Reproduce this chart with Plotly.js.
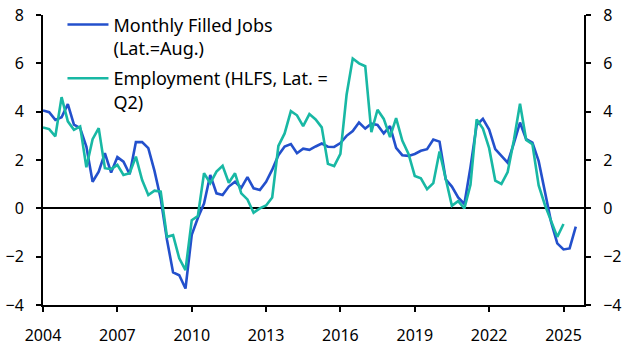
<!DOCTYPE html>
<html>
<head>
<meta charset="utf-8">
<script src="https://cdn.plot.ly/plotly-3.0.1.min.js"></script>
<style>html,body{margin:0;padding:0;background:#fff;}#chart{width:630px;height:355px;}</style>
</head>
<body>
<div id="chart"></div>
<script>
// Quarterly series start (first observation plotted at Jan 2004)
var startYear = 2004;
var seriesNames = ["Monthly Filled Jobs<br>(Lat.=Aug.)", "Employment (HLFS, Lat. =<br>Q2)"];
var filledJobs = [4.05,3.98,3.66,3.77,4.31,3.46,3.32,2.56,1.1,1.52,2.28,1.48,2.12,1.93,1.41,2.74,2.74,2.49,1.55,0.4,
  -1.3,-2.65,-2.77,-3.32,-1.1,-0.4,0.2,1.38,0.62,0.55,0.9,1.1,0.85,1.29,0.83,0.76,1.1,1.6,2.2,2.56,
  2.66,2.28,2.47,2.42,2.56,2.68,2.55,2.54,2.7,3.0,3.2,3.55,3.3,3.5,3.45,3.1,3.4,2.5,2.2,2.17,
  2.25,2.38,2.45,2.85,2.76,1.2,0.9,0.45,0.18,1.7,3.45,3.7,3.26,2.45,2.17,1.89,2.7,3.55,2.86,2.72,
  1.95,0.62,-0.55,-1.45,-1.7,-1.66,-0.76];
var employment = [3.35,3.28,2.98,4.6,3.6,3.25,3.39,1.7,2.86,3.32,1.66,1.62,1.8,1.38,1.45,2.14,1.17,0.55,0.73,0.69,
  -1.18,-1.11,-2.07,-2.56,-0.49,-0.32,1.45,1.04,1.52,1.76,1.06,1.45,0.62,0.37,-0.18,0.0,0.12,0.45,2.58,3.1,
  4.02,3.85,3.4,3.9,3.68,3.35,1.84,1.75,2.25,4.7,6.2,6.0,5.88,3.15,4.08,3.7,2.95,3.73,2.8,2.25,
  1.34,1.24,0.79,1.04,2.35,1.2,0.11,0.3,0.0,0.97,3.68,3.3,2.49,1.15,1.01,1.5,2.83,4.33,2.83,2.65,
  0.95,0.15,-0.55,-1.18,-0.65];
var tickYears = ["2004","2007","2010","2013","2016","2019","2022","2025"];
var yTicks = [-4,-2,0,2,4,6,8];

function quarterDates(n){
  var out=[];
  for(var i=0;i<n;i++){
    var y=startYear+Math.floor(i/4), m=(i%4)*3+1;
    out.push(y+"-"+(m<10?"0":"")+m+"-01");
  }
  return out;
}

var font = "Noto Sans, DejaVu Sans, sans-serif";
var traces = [
  {x: quarterDates(filledJobs.length), y: filledJobs, name: seriesNames[0], type:"scatter", mode:"lines",
   line:{color:"#2350cc", width:2.6}, yaxis:"y", legendgroup:"a"},
  {x: quarterDates(employment.length), y: employment, name: seriesNames[1], type:"scatter", mode:"lines",
   line:{color:"#18b8a4", width:2.6}, yaxis:"y2", legendgroup:"b"}
];
var yax = {range:[-4,8], tickvals:yTicks, ticks:"outside", ticklen:5, tickwidth:2, tickcolor:"#000",
  showline:true, linecolor:"#000", linewidth:2, showgrid:false, zeroline:true, zerolinecolor:"#000", zerolinewidth:2,
  tickfont:{family:font, size:16, color:"#000"}, ticklabelstandoff:9, fixedrange:true, automargin:false};
var layout = {
  width:630, height:355,
  margin:{l:43, r:46, t:15, b:50, autoexpand:false},
  paper_bgcolor:"#fff", plot_bgcolor:"#fff",
  showlegend:true,
  legend:{x:0.036, y:1.030, xanchor:"left", yanchor:"top", bgcolor:"rgba(0,0,0,0)", valign:"top",
    font:{family:font, size:18, color:"#000"}, tracegroupgap:4, itemwidth:41},
  xaxis:{type:"date", range:["2004-01-01","2025-10-30"], tickvals: tickYears.map(function(t){return t+"-01-01";}),
    ticktext: tickYears, ticks:"outside", ticklen:5, tickwidth:2, tickcolor:"#000",
    showline:true, linecolor:"#000", linewidth:2, showgrid:false, zeroline:false, automargin:false,
    tickfont:{family:font, size:16, color:"#000"}, ticklabelstandoff:10},
  yaxis: yax,
  yaxis2: Object.assign({}, yax, {overlaying:"y", side:"right"})
};
Plotly.newPlot("chart", traces, layout, {staticPlot:true, displayModeBar:false});
</script>
</body>
</html>
